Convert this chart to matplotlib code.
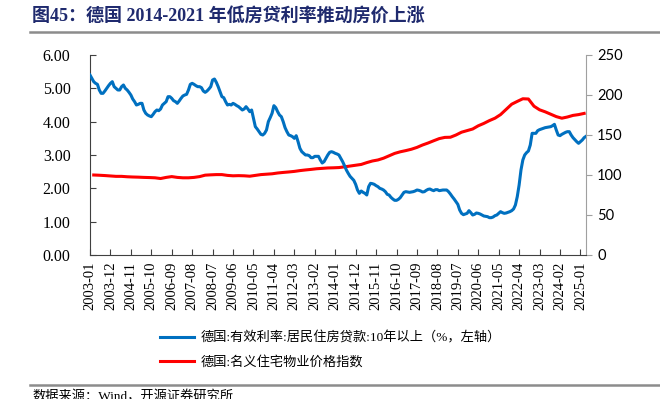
import numpy as np
import pandas as pd
import matplotlib
matplotlib.use("Agg")
import matplotlib.pyplot as plt
from matplotlib.lines import Line2D

# 德国有效利率: 居民住房贷款 10年以上 (%), 月度 2003-01 起
rate = [
    5.40, 5.30, 5.20, 5.15, 5.12, 4.95, 4.85, 4.85, 4.92, 5.00, 5.08, 5.15,
    5.20, 5.05, 5.00, 4.95, 4.95, 5.05, 5.10, 5.00, 4.95, 4.88, 4.80, 4.68,
    4.60, 4.50, 4.52, 4.55, 4.55, 4.35, 4.25, 4.20, 4.17, 4.15, 4.22, 4.30,
    4.35, 4.33, 4.38, 4.50, 4.55, 4.60, 4.75, 4.75, 4.70, 4.63, 4.60, 4.55,
    4.62, 4.70, 4.77, 4.80, 4.82, 4.95, 5.12, 5.15, 5.12, 5.08, 5.05, 5.05,
    5.02, 4.92, 4.88, 4.92, 4.98, 5.05, 5.25, 5.28, 5.18, 5.05, 4.90, 4.75,
    4.72, 4.60, 4.50, 4.52, 4.50, 4.55, 4.52, 4.48, 4.45, 4.40, 4.35, 4.38,
    4.45, 4.38, 4.30, 4.35, 4.10, 3.85, 3.78, 3.70, 3.62, 3.60, 3.65, 3.75,
    4.00, 4.12, 4.25, 4.48, 4.42, 4.30, 4.20, 4.15, 4.00, 3.82, 3.70, 3.60,
    3.58, 3.55, 3.50, 3.58, 3.40, 3.20, 3.10, 3.05, 3.00, 3.00, 2.98, 2.92,
    2.92, 2.96, 2.96, 2.96, 2.85, 2.76, 2.80, 2.90, 3.00, 3.08, 3.10, 3.08,
    3.05, 3.03, 3.00, 2.90, 2.80, 2.68, 2.55, 2.45, 2.36, 2.30, 2.24, 2.12,
    1.95, 1.85, 1.92, 1.88, 1.85, 1.80, 2.05, 2.15, 2.14, 2.12, 2.08, 2.05,
    2.00, 1.98, 1.95, 1.90, 1.82, 1.80, 1.73, 1.68, 1.64, 1.64, 1.67, 1.72,
    1.80, 1.88, 1.90, 1.89, 1.88, 1.89, 1.90, 1.92, 1.95, 1.94, 1.92, 1.89,
    1.90, 1.94, 1.97, 1.98, 1.95, 1.93, 1.96, 1.96, 1.93, 1.94, 1.95, 1.95,
    1.95, 1.90, 1.83, 1.75, 1.68, 1.60, 1.52, 1.35, 1.25, 1.21, 1.23, 1.25,
    1.33, 1.27, 1.20, 1.22, 1.26, 1.25, 1.23, 1.20, 1.17, 1.16, 1.15, 1.12,
    1.12, 1.14, 1.18, 1.20, 1.25, 1.30, 1.27, 1.25, 1.26, 1.28, 1.30, 1.33,
    1.38, 1.50, 1.75, 2.10, 2.55, 2.85, 3.00, 3.07, 3.12, 3.30, 3.65, 3.65,
    3.65, 3.73, 3.76, 3.78, 3.80, 3.82, 3.83, 3.84, 3.85, 3.88, 3.92, 3.75,
    3.60, 3.58, 3.62, 3.65, 3.68, 3.70, 3.70, 3.60, 3.52, 3.46, 3.40, 3.35,
    3.40, 3.45, 3.52, 3.56,
]

# 德国名义住宅物业价格指数, 季度 (2003-03 起)
price = [
    100.0, 99.7, 99.3, 98.8, 98.3, 98.3, 97.8, 97.5, 97.3, 97.0, 96.8, 96.5,
    95.6, 97.0, 98.0, 97.0, 96.5, 96.5, 97.0, 98.0, 99.8, 100.2, 100.5, 100.5,
    99.5, 99.0, 99.2, 99.0, 98.5, 99.5, 100.5, 101.0, 101.5, 102.5, 103.2, 103.8,
    104.5, 105.5, 106.3, 107.0, 107.8, 108.3, 108.8, 109.0, 109.3, 110.2, 111.2, 112.2,
    113.2, 115.5, 117.5, 118.8, 121.0, 124.0, 127.0, 129.0, 130.5, 132.2, 134.5, 137.5,
    140.0, 142.8, 145.5, 147.0, 147.2, 150.0, 153.5, 155.5, 157.5, 161.5, 164.5, 168.0,
    171.0, 175.5, 182.0, 188.5, 192.0, 195.3, 195.0, 186.0, 181.5, 179.0, 176.0, 173.0,
    171.0, 172.5, 174.5, 175.5, 177.0,
]

months = pd.date_range("2003-01", periods=len(rate), freq="MS")
tick_labels = [m.strftime("%Y-%m") for m in months[::11]]

x_rate = np.arange(len(rate))
x_price = 2 + 3 * np.arange(len(price))

BLUE = "#0070C0"
RED = "#FF0000"
CJK = ["Liberation Serif", "Noto Sans CJK SC", "DejaVu Sans"]

fig = plt.figure(figsize=(6.6, 3.99), dpi=100)
ax = fig.add_axes([90 / 660, 1 - 255 / 399, 496 / 660, 200 / 399])
ax2 = ax.twinx()

ax.plot(x_rate, rate, color=BLUE, lw=2.2, zorder=3)
ax2.plot(x_price, price, color=RED, lw=2.2)
ax.set_zorder(ax2.get_zorder() + 1)
ax.patch.set_visible(False)

ax.set_xlim(0, len(rate) - 1)
ax.set_ylim(0, 6)
ax2.set_ylim(0, 250)
ax.set_yticks(np.arange(0, 7, 1))
ax.set_yticklabels([f"{v:.2f}" for v in range(7)], fontfamily="Liberation Serif", fontsize=11.5)
ax2.set_yticks(np.arange(0, 251, 50))
ax2.set_yticklabels([str(v) for v in range(0, 251, 50)], fontfamily="Lato", fontsize=10.5)
ax.set_xticks(x_rate[::11])
ax.set_xticklabels(tick_labels, rotation=90, fontfamily="Liberation Serif", fontsize=10.5)

ax.tick_params(axis="y", direction="in", length=4, color="#404040", pad=14)
ax.tick_params(axis="x", direction="in", length=4, color="#404040", pad=5)
ax2.tick_params(axis="y", direction="out", length=4, color="#A0A0A0", pad=4)

for a in (ax, ax2):
    a.spines["top"].set_visible(False)
ax.spines["left"].set_color("#404040")
ax.spines["bottom"].set_color("#404040")
ax.spines["right"].set_visible(False)
ax2.spines["left"].set_visible(False)
ax2.spines["bottom"].set_visible(False)
ax2.spines["right"].set_color("#A0A0A0")

# 标题与分隔线
fig.text(32 / 660, 1 - 17 / 399, "图45：德国 2014-2021 年低房贷利率推动房价上涨",
         family=CJK, fontsize=13, fontweight="bold", color="#1F2A6E", va="center")
fig.add_artist(Line2D([30 / 660, 1], [1 - 32 / 399] * 2, color="#8C8C8C", lw=1.8))
fig.add_artist(Line2D([30 / 660, 1], [1 - 385 / 399] * 2, color="#8C8C8C", lw=1.8))

# 图例
handles = [Line2D([], [], color=BLUE, lw=2.2), Line2D([], [], color=RED, lw=2.2)]
labels = ["德国:有效利率:居民住房贷款:10年以上（%，左轴）", "德国:名义住宅物业价格指数"]
leg = fig.legend(handles, labels, loc="upper left", bbox_to_anchor=(148 / 660, 1 - 320 / 399),
                 frameon=False, handlelength=2.6, handletextpad=0.5, labelspacing=0.8,
                 prop={"family": CJK, "size": 9.5})

fig.text(32 / 660, 1 - 391 / 399, "数据来源：Wind，开源证券研究所", family=CJK,
         fontsize=9.5, va="top")

fig.savefig("out.png", dpi=100)
